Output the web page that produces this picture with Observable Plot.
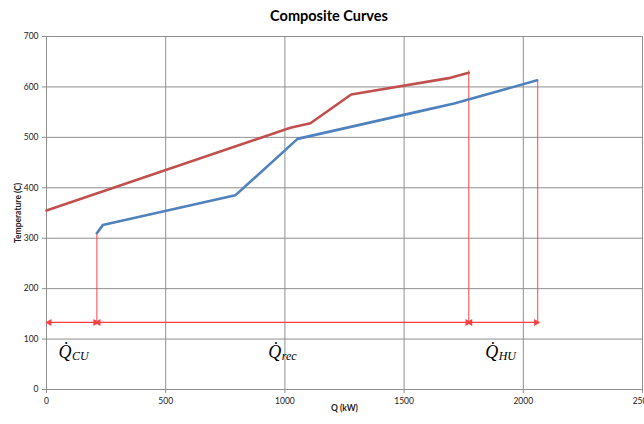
<!DOCTYPE html>
<html><head><meta charset="utf-8">
<script src="https://cdn.jsdelivr.net/npm/d3@7"></script>
<script src="https://cdn.jsdelivr.net/npm/@observablehq/plot@0.6"></script>
<style>
body{margin:0;background:#fff;font-family:Lato,"Open Sans",sans-serif;}
#title{width:644px;height:30px;line-height:31px;text-align:center;font-weight:bold;font-size:14.5px;padding-left:14px;box-sizing:border-box;color:#000;}
</style></head><body>
<div id="title">Composite Curves</div>
<div id="chart"></div>
<script>
// Hot composite curve (red)
const hotQ = [0, 1023, 1107, 1278, 1694, 1771];
const hotT = [355, 519, 528, 585, 618, 628];
// Cold composite curve (blue)
const coldQ = [211, 236, 792, 1053, 1568, 1710, 2058];
const coldT = [310, 326, 385, 497, 552, 567, 613];
// Vertical guide lines (Q position, top temperature)
const guideQ = [211, 1771, 2060];
const guideTop = [310, 632, 613];
const guideBottom = 133;
// Double-headed arrows (start, end) at T = 133
const arrowStart = [12, 218, 1777];
const arrowEnd = [205, 1766, 2054];
const arrowT = 133;
// Labels
const labelQ = [50, 930, 1840];
const labelSub = ["CU", "rec", "HU"];
const labelT = 74;
// Ticks
const xTicks = [0, 500, 1000, 1500, 2000, 2500];
const yTicks = [0, 100, 200, 300, 400, 500, 600, 700];

const hot = hotQ.map((q, i) => ({q, t: hotT[i]}));
const cold = coldQ.map((q, i) => ({q, t: coldT[i]}));
const guides = guideQ.map((q, i) => ({q, top: guideTop[i], bottom: guideBottom}));
const arrows = arrowStart.map((s, i) => ({s, e: arrowEnd[i], t: arrowT}));
const heads = arrows.flatMap(a => [{q: a.s, t: a.t, r: -90}, {q: a.e, t: a.t, r: 90}]);
const labels = labelQ.map((q, i) => ({q, t: labelT, sub: labelSub[i]}));

const red = "#ff4040";
const chart = Plot.plot({
  width: 644,
  height: 394,
  marginTop: 6,
  marginBottom: 35,
  marginLeft: 46,
  marginRight: 2,
  style: {fontFamily: "Lato, 'Open Sans', sans-serif", fontSize: "8.5px", color: "#222", background: "#fff", overflow: "visible"},
  x: {domain: [0, 2500]},
  y: {domain: [0, 700]},
  marks: [
    Plot.gridX(xTicks, {stroke: "#8f8f8f", strokeOpacity: 1, strokeWidth: 1}),
    Plot.gridY(yTicks, {stroke: "#8f8f8f", strokeOpacity: 1, strokeWidth: 1}),
    Plot.axisX(xTicks, {tickSize: 4, tickPadding: 4, stroke: "#8f8f8f", tickFormat: d => String(d), label: "Q (kW)", labelAnchor: "center", labelOffset: 21, labelArrow: "none"}),
    Plot.axisY(yTicks, {tickSize: 4, tickPadding: 4, stroke: "#8f8f8f", tickFormat: d => String(d), label: "Temperature (C)", labelAnchor: "center", labelOffset: 32, labelArrow: "none"}),
    Plot.ruleX(guides, {x: "q", y1: "bottom", y2: "top", stroke: red, strokeWidth: 1.3, strokeOpacity: 0.75}),
    Plot.link(arrows, {x1: "s", x2: "e", y1: "t", y2: "t", stroke: red, strokeWidth: 1.3}),
    Plot.dot(heads, {x: "q", y: "t", symbol: "triangle", rotate: "r", r: 2.6, fill: red, stroke: "none"}),
    Plot.line(hot, {x: "q", y: "t", stroke: "#c0504d", strokeWidth: 2.6}),
    Plot.line(cold, {x: "q", y: "t", stroke: "#4f81bd", strokeWidth: 2.6}),
    Plot.text(labels, {x: "q", y: "t", text: () => "Q\u0307", textAnchor: "start", fontSize: 18, fontStyle: "italic", fontFamily: "'Liberation Serif', serif", fill: "#000"}),
    Plot.text(labels, {x: "q", y: "t", text: "sub", textAnchor: "start", dx: 13.5, dy: 4, fontSize: 12, fontStyle: "italic", fontFamily: "'Liberation Serif', serif", fill: "#000"})
  ]
});
chart.querySelectorAll("[aria-label='x-axis label'] text, [aria-label='y-axis label'] text").forEach(t => t.setAttribute("font-weight", "bold"));
document.getElementById("chart").appendChild(chart);
</script>
</body></html>
